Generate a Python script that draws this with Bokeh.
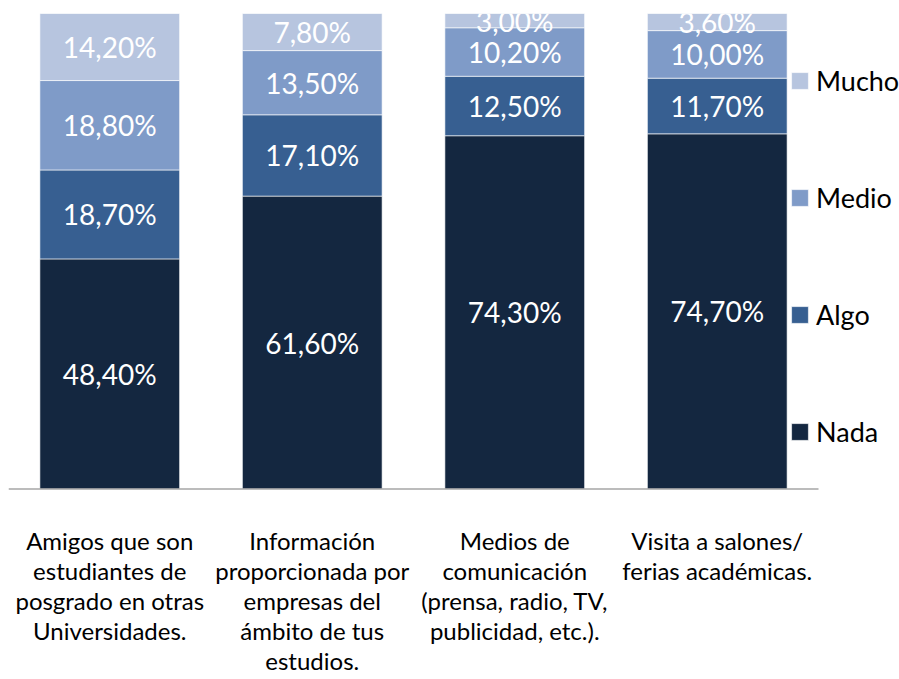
from bokeh.plotting import figure
from bokeh.models import ColumnDataSource, Range1d, Legend, LegendItem, FixedTicker
from bokeh.core.properties import value
from bokeh.embed import file_html
from bokeh.resources import INLINE

category_labels = [
    "Amigos que son\nestudiantes de\nposgrado en otras\nUniversidades.",
    "Información\nproporcionada por\nempresas del\námbito de tus\nestudios.",
    "Medios de\ncomunicación\n(prensa, radio, TV,\npublicidad, etc.).",
    "Visita a salones/\nferias académicas.",
]
series = ["Nada", "Algo", "Medio", "Mucho"]
nada = [48.4, 61.6, 74.3, 74.7]
algo = [18.7, 17.1, 12.5, 11.7]
medio = [18.8, 13.5, 10.2, 10.0]
mucho = [14.2, 7.8, 3.0, 3.6]
colors = ["#142740", "#375f91", "#7f9bc8", "#b7c5df"]

FONT = "Lato"

xpos = [i + 0.5 for i in range(len(category_labels))]
src = ColumnDataSource({"x": xpos, "Nada": nada, "Algo": algo, "Medio": medio, "Mucho": mucho})

p = figure(x_range=Range1d(0, 4.4), y_range=Range1d(-0.3, 100),
           width=899, height=679, output_backend="svg", toolbar_location=None,
           min_border_left=8, min_border_right=0, min_border_top=13, min_border_bottom=189)
p.outline_line_color = None
p.xgrid.grid_line_color = None
p.ygrid.grid_line_color = None
p.yaxis.visible = False

renderers = p.vbar_stack(series, x="x", width=0.69, source=src, color=colors,
                         line_color="white", line_width=1, line_alpha=0.6)

# baseline (category axis line)
p.segment(x0=[0], x1=[len(category_labels)], y0=[0], y1=[0],
          line_color="#a6a6a6", line_width=1.5)

# segment labels
xs, ys, texts = [], [], []
all_vals = [nada, algo, medio, mucho]
for i, xc in enumerate(xpos):
    base = 0.0
    for vals in all_vals:
        v = vals[i]
        xs.append(xc)
        ys.append(base + v / 2)
        texts.append(f"{v:.2f}".replace(".", ",") + "%")
        base += v
lab = ColumnDataSource(dict(x=xs, y=ys, t=texts))
p.text(x="x", y="y", text="t", source=lab, text_color="white", text_font=value(FONT),
       text_font_size="28px", text_align="center", text_baseline="middle")

xa = p.xaxis[0]
xa.ticker = FixedTicker(ticks=xpos)
xa.major_label_overrides = {x: l for x, l in zip(xpos, category_labels)}
xa.major_tick_line_color = None
xa.minor_tick_line_color = None
xa.axis_line_color = None
xa.major_label_text_font = FONT
xa.major_label_text_font_size = "24px"
xa.major_label_text_color = "black"
xa.major_label_standoff = 29
xa.major_label_text_line_height = 1.035

items = [LegendItem(label=s, renderers=[r]) for s, r in zip(series, renderers)]
items = items[::-1]
legend = Legend(items=items, location=(781, 42), orientation="vertical",
                glyph_width=21, glyph_height=21, label_height=21, spacing=84,
                label_standoff=6, padding=0, margin=0,
                border_line_color=None, background_fill_alpha=0,
                label_text_font=FONT, label_text_font_size="27px", label_text_color="black")
p.add_layout(legend, "center")

open("out.html", "w").write(file_html(p, INLINE))
